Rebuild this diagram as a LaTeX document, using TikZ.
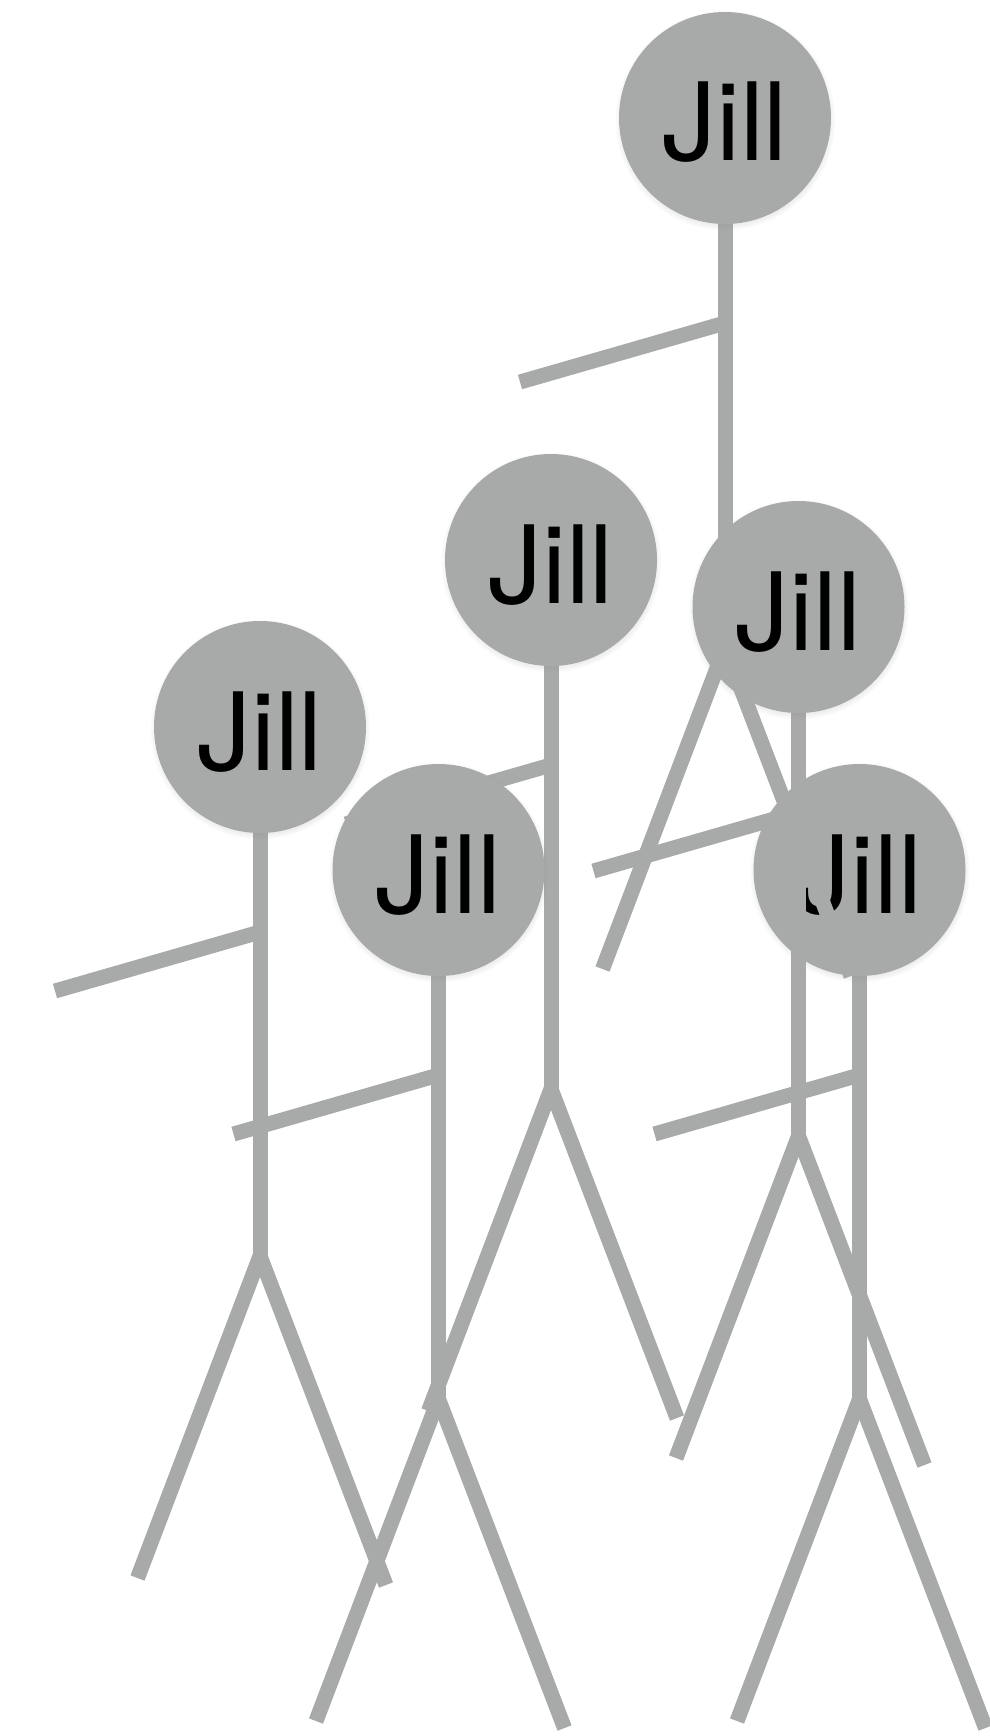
\documentclass[tikz,border=0pt]{standalone}
\usepackage{fontspec}
\usepackage{pdfrender}
\setmainfont{TeX Gyre Heros}
\usetikzlibrary{shadows,calc}
\definecolor{stickgray}{RGB}{167,170,169}
\newcommand{\thinname}[1]{\raisebox{-43pt}[0pt][0pt]{\textpdfrender{TextRenderingMode=FillStroke,LineWidth=3,StrokeColor=stickgray}{#1}}}
\begin{document}
\begin{tikzpicture}[x=1pt,y=-1pt,
  limb/.style={draw=stickgray,line width=15pt,line cap=butt},
  headnode/.style={circle,fill=stickgray,minimum size=212pt,inner sep=0pt,
    text=black,font=\fontsize{108}{108}\selectfont,
    circular drop shadow={shadow scale=1.04,shadow xshift=0pt,shadow yshift=-2pt,opacity=0.35}}]
\useasboundingbox[fill=white] (0,0) rectangle (989,1736);
\foreach \n/\x/\y in {2/260/727, 3/551/560, 5/438.5/870, 6/859.5/870, 4/798.5/607, 1/725/118}{
  \coordinate (c\n) at (\x,\y);
  \coordinate (sh\n) at ($(c\n)+(0,205)$);
  \coordinate (hand\n) at ($(c\n)+(-205,264)$);
  \coordinate (hip\n) at ($(c\n)+(0,529)$);
  \coordinate (lf\n) at ($(c\n)+(-122.5,851)$);
  \coordinate (rf\n) at ($(c\n)+(126,858)$);
  \draw[limb] (c\n) -- (hip\n);
  \draw[limb] (sh\n) -- (hand\n);
  \draw[limb] (hip\n) -- (lf\n);
  \draw[limb] (hip\n) -- (rf\n);
  \node[headnode] (h\n) at (c\n) {\thinname{Jill}};
}
\end{tikzpicture}
\end{document}
